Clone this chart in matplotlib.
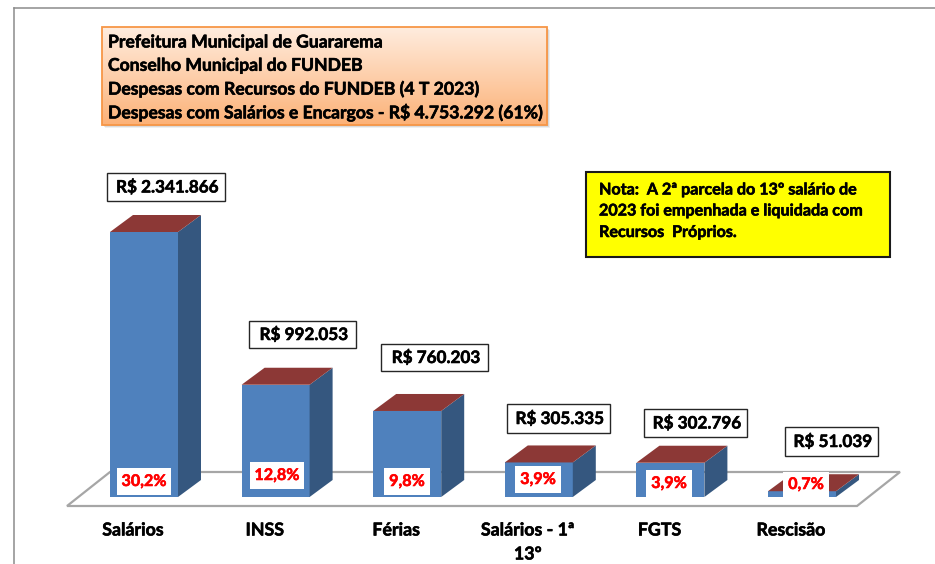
import numpy as np
import matplotlib
matplotlib.use("Agg")
import matplotlib.pyplot as plt
import matplotlib.patheffects as pe
from matplotlib.patches import Polygon, Rectangle

# ==============================
# DATA
# ==============================
categories = ["Salários", "INSS", "Férias", "Salários - 1ª\n13º", "FGTS", "Rescisão"]
values = [2341866, 992053, 760203, 305335, 302796, 51039]
value_labels = ["R$ 2.341.866", "R$ 992.053", "R$ 760.203", "R$ 305.335", "R$ 302.796", "R$ 51.039"]
share_labels = ["30,2%", "12,8%", "9,8%", "3,9%", "3,9%", "0,7%"]
title_lines = [
    "Prefeitura Municipal de Guararema",
    "Conselho Municipal do FUNDEB",
    "Despesas com Recursos do FUNDEB (4 T 2023)",
    "Despesas com Salários e Encargos - R$ 4.753.292 (61%)",
]
note_lines = [
    "Nota:  A 2ª parcela do 13º salário de",
    "2023 foi empenhada e liquidada com",
    "Recursos  Próprios.",
]

# ==============================
# LAYOUT (pixels of the 935x564 picture)
# ==============================
W, H = 935, 564
FIRST_X = 144
STEP_X = 131.6
BASE_Y = 497
PX_PER_VALUE = 265 / 2341866
BAR_W = 68
DX, DY = 23, 17

plt.rcParams["font.family"] = ["Lato", "DejaVu Sans"]
plt.rcParams["font.weight"] = "bold"

fig = plt.figure(figsize=(W / 100, H / 100), dpi=100)
ax = fig.add_axes([0, 0, 1, 1])
ax.set_xlim((0 - FIRST_X) / STEP_X, (W - FIRST_X) / STEP_X)
ax.set_ylim((BASE_Y - H) / PX_PER_VALUE, BASE_Y / PX_PER_VALUE)
ax.axis("off")


# helpers to go from pixels to data
def px(x):
    return (x - FIRST_X) / STEP_X


def py(y):
    return (BASE_Y - y) / PX_PER_VALUE


def box(x0, y0, x1, y1, **kw):
    ax.add_patch(Rectangle((px(x0), py(y1)), px(x1) - px(x0), py(y0) - py(y1), **kw))


ddx = DX / STEP_X
ddy = DY / PX_PER_VALUE
half = BAR_W / STEP_X / 2

# frame lines, top and left
ax.plot([px(13.5), px(W)], [py(8), py(8)], color="#8c8c8c", lw=1.1, zorder=1)
ax.plot([px(13.5), px(13.5)], [py(8), py(H)], color="#8c8c8c", lw=1.1, zorder=1)

# floor
floor = [(px(67), py(506)), (px(857), py(506)), (px(900), py(472)), (px(110), py(472))]
ax.add_patch(Polygon(floor, closed=True, facecolor="white", edgecolor="#a6a6a6", lw=1.6, zorder=1))

# bars
xs = np.arange(len(values))
ax.bar(xs, values, width=BAR_W / STEP_X, color="#4f81bd", zorder=3)
for x, v in zip(xs, values):
    side = [(x + half, 0), (x + half + ddx, ddy), (x + half + ddx, v + ddy), (x + half, v)]
    top = [(x - half, v), (x + half, v), (x + half + ddx, v + ddy), (x - half + ddx, v + ddy)]
    ax.add_patch(Polygon(side, closed=True, facecolor="#35577f", edgecolor="none", zorder=3))
    ax.add_patch(Polygon(top, closed=True, facecolor="#8c3836", edgecolor="none", zorder=3))

# category labels, they sit a bit left of the bars
for x, cat in zip(xs, categories):
    for k, line in enumerate(cat.split("\n")):
        ax.text(x - 11 / STEP_X, py(530 + k * 24), line, ha="center", va="center",
                fontsize=12.8, color="black", zorder=6)

# value boxes
val_boxes = [(107, 173, 225, 201), (249, 321, 356, 348), (381, 344, 488, 371),
             (507, 404, 610, 433), (644, 409, 747, 437), (785, 427, 878, 456)]
for (x0, y0, x1, y1), lab in zip(val_boxes, value_labels):
    box(x0, y0, x1, y1, facecolor="white", edgecolor="#262626", lw=1.0, zorder=5)
    ax.text(px((x0 + x1) / 2 + 1.5), py((y0 + y1) / 2), lab, ha="center", va="center", fontsize=12.3, zorder=6)

# share boxes
share_boxes = [(117, 468, 171, 495), (250, 462, 304, 489), (384, 468, 430, 495),
               (515, 466, 561, 493), (646, 470, 692, 497), (783, 472, 829, 497)]
for (x0, y0, x1, y1), lab in zip(share_boxes, share_labels):
    box(x0, y0, x1, y1, facecolor="white", edgecolor="none", zorder=5)
    ax.text(px((x0 + x1) / 2), py((y0 + y1) / 2 + 0.5), lab, ha="center", va="center",
            fontsize=11.6, color="#ff0000", zorder=6)

# title box, orange gradient and a soft shadow
for off, alpha in [(3, 0.12), (2, 0.18), (1, 0.25)]:
    box(102 + off, 27 + off, 547 + off, 125 + off, facecolor="#808080", edgecolor="none", alpha=alpha, zorder=4)
grad = np.linspace(0, 1, 64).reshape(-1, 1)
cols = np.array([255, 236, 222]) / 255 * (1 - grad) + np.array([252, 178, 120]) / 255 * grad
ax.imshow(cols.reshape(64, 1, 3), extent=(px(102), px(547), py(125), py(27)), aspect="auto", zorder=5)
ax.set_xlim((0 - FIRST_X) / STEP_X, (W - FIRST_X) / STEP_X)
ax.set_ylim((BASE_Y - H) / PX_PER_VALUE, BASE_Y / PX_PER_VALUE)
box(102, 27, 547, 125, facecolor="none", edgecolor="#f79646", lw=1.3, zorder=5)
for i, line in enumerate(title_lines):
    ax.text(px(108), py(42 + i * 23.3), line, ha="left", va="center", fontsize=12.65, zorder=6)

# note box
box(586, 172, 890, 257, facecolor="#ffff00", edgecolor="#1a1a1a", lw=1.5, zorder=5)
for i, line in enumerate(note_lines):
    ax.text(px(599), py(190 + i * 21.5), line, ha="left", va="center", fontsize=11.6, zorder=6)

# text looks too thin at this size, thicken it a little
for t in ax.texts:
    t.set_path_effects([pe.withStroke(linewidth=0.4, foreground=t.get_color())])

fig.savefig("out.png", dpi=100)
